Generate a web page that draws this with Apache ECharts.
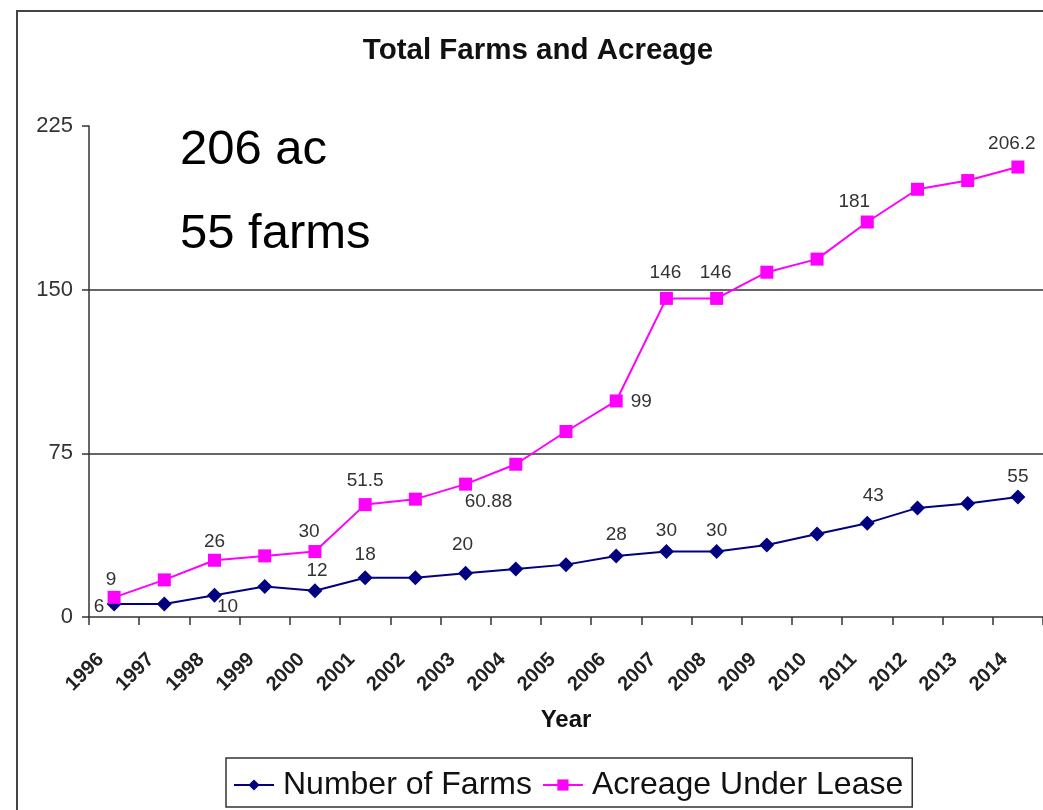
<!DOCTYPE html>
<html>
<head>
<meta charset="utf-8">
<title>Total Farms and Acreage</title>
<script src="https://cdn.jsdelivr.net/npm/echarts@6/dist/echarts.min.js"></script>
<style>
  html, body { margin: 0; padding: 0; background: #ffffff; }
  #chart { width: 1043px; height: 810px; }
</style>
</head>
<body>
<div id="chart"></div>
<script>
// ---- data ----
const years = ['1996', '1997', '1998', '1999', '2000', '2001', '2002', '2003', '2004', '2005',
               '2006', '2007', '2008', '2009', '2010', '2011', '2012', '2013', '2014'];
const farms = [6, 6, 10, 14, 12, 18, 18, 20, 22, 24, 28, 30, 30, 33, 38, 43, 50, 52, 55];
const acreage = [9, 17, 26, 28, 30, 51.5, 54, 60.88, 70, 85, 99, 146, 146, 158, 164, 181, 196, 200, 206.2];
const yTicks = [0, 75, 150, 225];
const summaryLines = ['206 ac', '55 farms'];

// ---- label placement (offset of each value label from its point) ----
const FONT = '"Liberation Sans", Arial, sans-serif';
const farmLabelPlacement = {
  '1996': [-15, 3], '1998': [13, 12], '2000': [2, -20], '2001': [0, -23], '2003': [-3, -29],
  '2006': [0, -21], '2007': [0, -21], '2008': [0, -21], '2011': [6, -27], '2014': [0, -20]
};
const acreLabelPlacement = {
  '1996': [-3, -18], '1998': [0, -18], '2000': [-6, -20], '2001': [0, -24], '2003': [23, 18],
  '2006': [25, 1], '2007': [-1, -26], '2008': [-1, -26], '2011': [-13, -20], '2014': [-6, -23]
};

function withLabels(values, placement) {
  return values.map(function (v, i) {
    const off = placement[years[i]];
    if (!off) return v;
    return {
      value: v,
      label: {
        show: true, position: 'inside', offset: off,
        color: '#333', fontSize: 19, fontFamily: FONT,
        textBorderWidth: 0
      }
    };
  });
}

const chart = echarts.init(document.getElementById('chart'), null, { renderer: 'canvas' });

const option = {
  animation: false,
  backgroundColor: '#ffffff',
  grid: { left: 89, right: -4, top: 126, bottom: 193, containLabel: false },
  legend: {
    left: 226, top: 758,
    orient: 'horizontal',
    itemWidth: 40, itemHeight: 14, itemGap: 10,
    padding: [11, 9, 6, 7],
    borderColor: '#333', borderWidth: 1.5,
    backgroundColor: '#fff',
    textStyle: { fontSize: 32, fontFamily: FONT, color: '#111', padding: [0, 0, 0, 4] },
    data: ['Number of Farms', 'Acreage Under Lease']
  },
  xAxis: {
    type: 'category',
    data: years,
    boundaryGap: true,
    name: 'Year',
    nameLocation: 'middle',
    nameGap: 91,
    nameTextStyle: { fontSize: 24, fontWeight: 'bold', fontFamily: FONT, color: '#111' },
    axisLine: { show: true, lineStyle: { color: '#333', width: 1.5 } },
    axisTick: { show: true, inside: false, length: 8, alignWithLabel: false, interval: 0,
                lineStyle: { color: '#333', width: 1.5 } },
    axisLabel: {
      interval: 0, rotate: 45, margin: 26,
      padding: [0, 19, 38, 0],
      fontSize: 20, fontWeight: 'bold', fontFamily: FONT, color: '#222'
    },
    splitLine: { show: false }
  },
  yAxis: {
    type: 'value',
    min: yTicks[0], max: yTicks[yTicks.length - 1], interval: yTicks[1] - yTicks[0],
    axisLine: { show: true, lineStyle: { color: '#333', width: 1.5 } },
    axisTick: { show: true, inside: false, length: 7, lineStyle: { color: '#333', width: 1.5 } },
    axisLabel: { margin: 16, fontSize: 22, fontFamily: FONT, color: '#333' },
    splitLine: {
      show: true,
      lineStyle: { color: ['transparent', '#333', '#333', 'transparent'], width: 1.5 }
    }
  },
  series: [
    {
      name: 'Number of Farms',
      type: 'line',
      data: withLabels(farms, farmLabelPlacement),
      symbol: 'diamond',
      symbolSize: 15,
      showAllSymbol: true,
      lineStyle: { color: '#000080', width: 2 },
      itemStyle: { color: '#000080' },
      emphasis: { disabled: true },
      z: 3
    },
    {
      name: 'Acreage Under Lease',
      type: 'line',
      data: withLabels(acreage, acreLabelPlacement),
      symbol: 'rect',
      symbolSize: 13,
      showAllSymbol: true,
      lineStyle: { color: '#FF00FF', width: 2 },
      itemStyle: { color: '#FF00FF' },
      emphasis: { disabled: true },
      z: 4
    }
  ],
  graphic: [
    {
      type: 'rect', z: -1, silent: true,
      shape: { x: 17, y: 11, width: 1100, height: 900 },
      style: { fill: 'none', stroke: '#444', lineWidth: 2 }
    },
    {
      type: 'text', x: 538, y: 51, silent: true,
      style: {
        text: 'Total Farms and Acreage', fill: '#111',
        fontSize: 29.5, fontWeight: 'bold', fontFamily: FONT,
        align: 'center', verticalAlign: 'middle'
      }
    },
    {
      type: 'text', x: 180, y: 150, silent: true,
      style: {
        text: summaryLines[0], fill: '#000', fontSize: 49, fontFamily: FONT,
        align: 'left', verticalAlign: 'middle'
      }
    },
    {
      type: 'text', x: 180, y: 234, silent: true,
      style: {
        text: summaryLines[1], fill: '#000', fontSize: 49, fontFamily: FONT,
        align: 'left', verticalAlign: 'middle'
      }
    }
  ]
};

chart.setOption(option);
</script>
</body>
</html>
